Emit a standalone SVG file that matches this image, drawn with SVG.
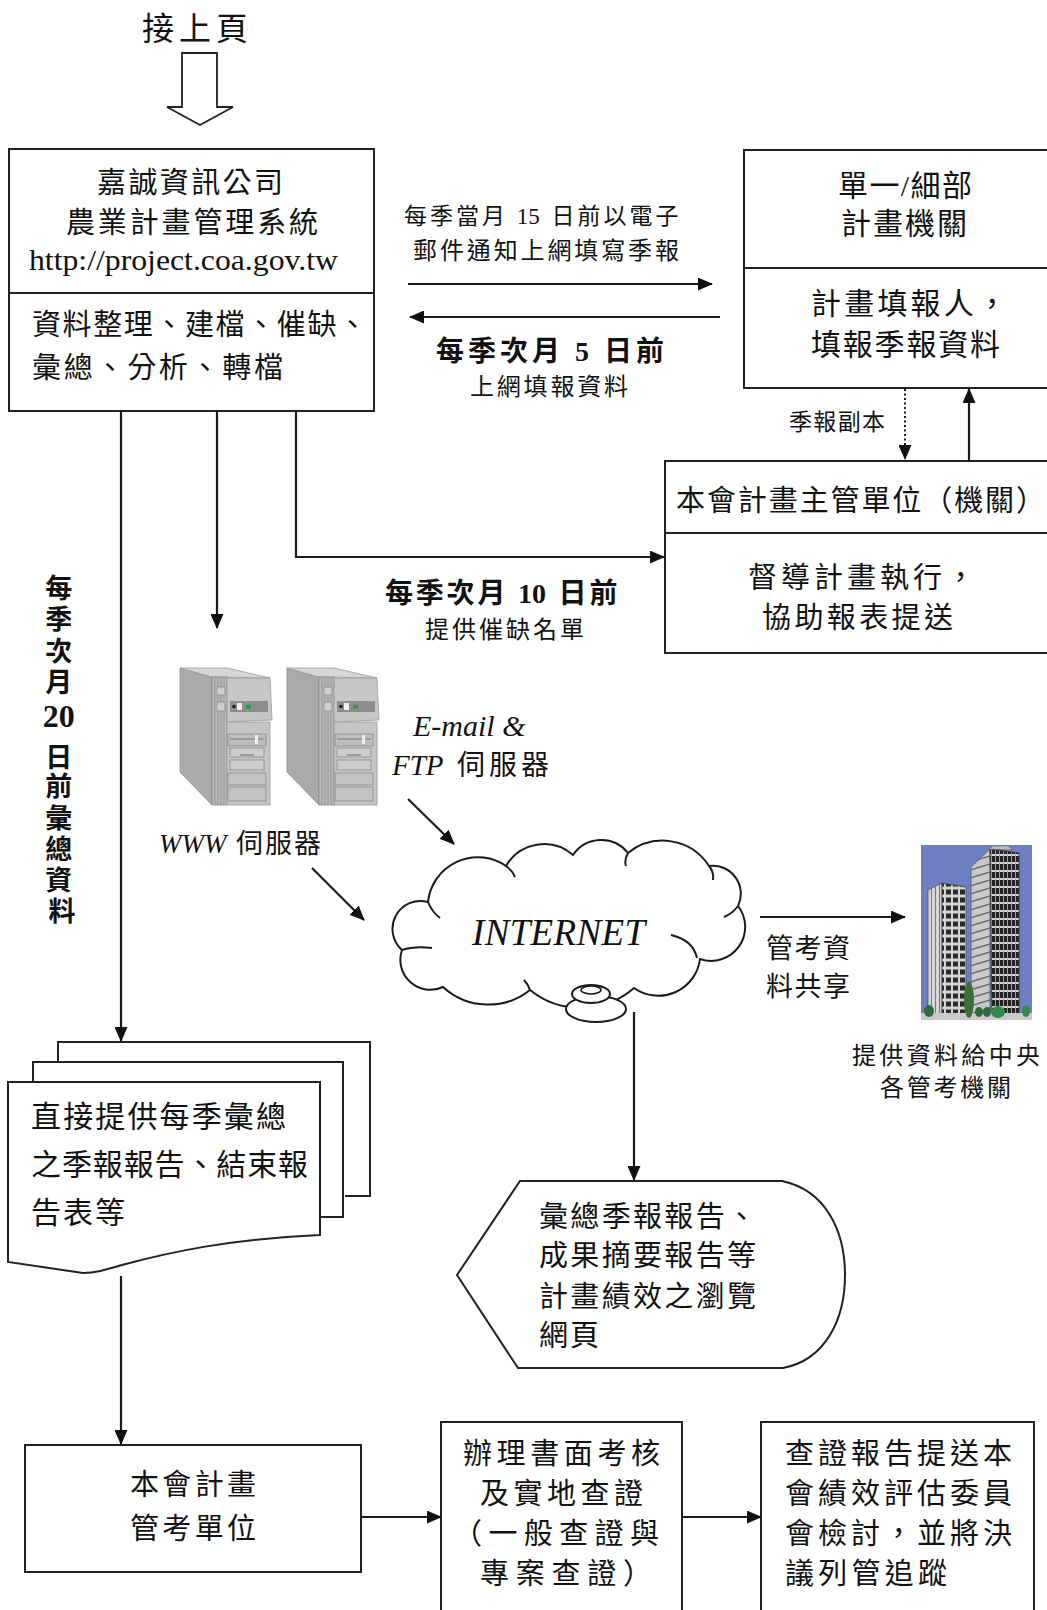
<svg xmlns="http://www.w3.org/2000/svg" width="1047" height="1610" viewBox="0 0 1047 1610">
  <style>
    text { font-family: "Liberation Serif", "Noto Sans CJK TC", serif; fill: #111; }
    .f29 { font-size: 29px; }
    .f30 { font-size: 30px; }
    .f24 { font-size: 24px; }
    .f23 { font-size: 23px; }
    .f27 { font-size: 27px; }
    .bold { font-weight: bold; }
    .it { font-style: italic; }
    .box { fill: #fff; stroke: #222; stroke-width: 2; }
    .ln { fill: none; stroke: #1a1a1a; stroke-width: 2.2; }
    .arr { marker-end: url(#ah); }
    .cloud { fill: #fff; stroke: #1a1a1a; stroke-width: 2; }
    .hint { fill: none; stroke: #1a1a1a; stroke-width: 2; }
  </style>
  <defs>
    <marker id="ah" viewBox="0 0 15 13" refX="14" refY="6.5" markerWidth="15" markerHeight="13" markerUnits="userSpaceOnUse" orient="auto">
      <path d="M0,0 L15,6.5 L0,13 Z" fill="#111"/>
    </marker>
    <!-- tower PC, drawn at origin -->
    <g id="srv">
      <polygon points="0,0 32,9 32,137 0,104" fill="#aaaaaa" stroke="#8c8c8c" stroke-width="0.8"/>
      <polygon points="0,0 47,0 90,10 32,9" fill="#d6d6d6" stroke="#9a9a9a" stroke-width="0.8"/>
      <rect x="32" y="9" width="15" height="128" fill="#b9b9b9" stroke="#8c8c8c" stroke-width="0.8"/>
      <path d="M35,9 V137 M38,9 V137 M41,9 V137 M44,9 V137" stroke="#8f8f8f" stroke-width="0.8"/>
      <polygon points="47,10 90,10 92,52 47,54" fill="#c6c6c6" stroke="#999" stroke-width="0.8"/>
      <rect x="37" y="19" width="8" height="8" fill="#cfcfcf" stroke="#8a8a8a" stroke-width="0.8"/>
      <rect x="37" y="34" width="8" height="9" fill="#cfcfcf" stroke="#8a8a8a" stroke-width="0.8"/>
      <rect x="50" y="33" width="38" height="11" fill="#8d8d8d"/>
      <circle cx="54" cy="38.5" r="1.8" fill="#222"/>
      <rect x="57" y="35" width="5" height="7" fill="#eeeeee"/>
      <rect x="66" y="37" width="5" height="3.5" fill="#1f9a4c"/>
      <rect x="47" y="54" width="43" height="83" fill="#c6c6c6" stroke="#999" stroke-width="0.8"/>
      <rect x="48" y="66" width="38" height="12" fill="#bdbdbd" stroke="#8a8a8a" stroke-width="0.8"/>
      <path d="M50,71 H84" stroke="#777" stroke-width="1"/>
      <rect x="75" y="67" width="3" height="9" fill="#eee"/>
      <rect x="50" y="80" width="34" height="9" fill="#cdcdcd" stroke="#8a8a8a" stroke-width="0.8"/>
      <rect x="60" y="86" width="14" height="2" fill="#999"/>
      <rect x="50" y="92" width="34" height="10" fill="#cdcdcd" stroke="#8a8a8a" stroke-width="0.8"/>
      <rect x="48" y="105" width="38" height="12" fill="#c2c2c2" stroke="#8a8a8a" stroke-width="0.8"/>
      <rect x="48" y="119" width="38" height="14" fill="#c2c2c2" stroke="#8a8a8a" stroke-width="0.8"/>
    </g>
    <pattern id="winTall" width="4" height="8" patternUnits="userSpaceOnUse">
      <rect width="4" height="8" fill="#222"/>
      <rect y="6" width="4" height="2" fill="#d9d9d9"/>
      <rect x="3" width="1" height="8" fill="#a0a0a0"/>
    </pattern>
    <pattern id="floorTall" width="20" height="8" patternUnits="userSpaceOnUse" patternTransform="skewY(-17)">
      <rect width="20" height="8" fill="#c9c9c9"/>
      <rect y="6" width="20" height="1.2" fill="#555"/>
    </pattern>
    <pattern id="winShort" width="7" height="8" patternUnits="userSpaceOnUse">
      <rect width="7" height="8" fill="#d2d2d2"/>
      <rect x="1" y="1.5" width="5" height="5" fill="#2a2a2a"/>
    </pattern>
    <pattern id="ribShort" width="4" height="8" patternUnits="userSpaceOnUse">
      <rect width="4" height="8" fill="#d6d6d6"/>
      <rect x="3" width="1" height="8" fill="#7a7a7a"/>
    </pattern>
  </defs>

  <rect width="1047" height="1610" fill="#fff"/>

  <!-- continued-from-previous-page marker -->
  <g id="continued">
    <text x="142" y="40" font-size="32" textLength="106" lengthAdjust="spacing">接上頁</text>
    <polygon points="182,53 217,53 217,107 233,107 200,125 167,107 182,107" fill="#fff" stroke="#222" stroke-width="1.8"/>
  </g>

  <!-- project management system -->
  <g id="system">
    <rect class="box" x="9" y="149" width="365" height="262"/>
    <line x1="9" y1="293" x2="374" y2="293" stroke="#222" stroke-width="2"/>
    <text class="f29" x="97" y="193" textLength="186" lengthAdjust="spacing">嘉誠資訊公司</text>
    <text class="f29" x="66" y="233" textLength="252" lengthAdjust="spacing">農業計畫管理系統</text>
    <text x="29" y="270" font-size="29" textLength="309" lengthAdjust="spacingAndGlyphs">http://project.coa.gov.tw</text>
    <text class="f29" x="32" y="335" textLength="335" lengthAdjust="spacing">資料整理、建檔、催缺、</text>
    <text class="f29" x="32" y="378" textLength="251" lengthAdjust="spacing">彙總、分析、轉檔</text>
  </g>

  <!-- reporting agency -->
  <g id="agency">
    <rect class="box" x="744" y="150" width="310" height="238"/>
    <line x1="744" y1="268" x2="1047" y2="268" stroke="#222" stroke-width="2"/>
    <text class="f30" x="838" y="196" textLength="134" lengthAdjust="spacing">單一/細部</text>
    <text class="f30" x="841" y="234" textLength="126" lengthAdjust="spacing">計畫機關</text>
    <text class="f30" x="811" y="314" textLength="196" lengthAdjust="spacing">計畫填報人，</text>
    <text class="f30" x="811" y="355" textLength="189" lengthAdjust="spacing">填報季報資料</text>
  </g>

  <!-- supervising unit -->
  <g id="supervisor">
    <rect class="box" x="665" y="461" width="390" height="192"/>
    <line x1="665" y1="533" x2="1047" y2="533" stroke="#222" stroke-width="2"/>
    <text class="f29" x="676" y="511" textLength="369" lengthAdjust="spacing">本會計畫主管單位（機關）</text>
    <text class="f29" x="748" y="588" textLength="227" lengthAdjust="spacing">督導計畫執行，</text>
    <text class="f29" x="762" y="628" textLength="191" lengthAdjust="spacing">協助報表提送</text>
  </g>

  <!-- servers -->
  <g id="servers">
    <use href="#srv" x="180" y="668"/>
    <use href="#srv" x="287" y="668"/>
    <text x="413" y="736" font-size="30" class="it">E-mail &amp;</text>
    <text x="392" y="775" font-size="29"><tspan class="it">FTP</tspan><tspan x="457" font-size="28" letter-spacing="4">伺服器</tspan></text>
    <text x="159" y="853" font-size="27"><tspan class="it">WWW</tspan><tspan x="236" font-size="27" letter-spacing="2">伺服器</tspan></text>
  </g>

  <!-- internet cloud -->
  <g id="internet">
    <path class="cloud" d="M402,950 A28,28 0 0 1 428,902 A50,50 0 0 1 506,866 A44,44 0 0 1 573,855 A34,34 0 0 1 628,853 A55,55 0 0 1 709,866 A28,28 0 0 1 738,906 A34,34 0 0 1 700,959 A42,42 0 0 1 634,988 A81,81 0 0 1 530,990 A67,67 0 0 1 443,987 A30,30 0 0 1 402,950 Z"/>
    <path class="hint" d="M428,902 Q432,912 440,918 M506,866 Q512,870 515,877 M628,853 Q624,860 626,866 M709,866 Q714,872 713,880 M738,906 Q732,914 724,917 M697,958 Q693,940 671,935 M530,990 Q528,984 524,980 M402,950 Q414,946 432,948"/>
    <ellipse cx="596" cy="1009" rx="30" ry="13" class="cloud"/>
    <ellipse cx="591" cy="994" rx="19" ry="9" class="cloud"/>
    <ellipse cx="591" cy="990" rx="10" ry="4" fill="none" stroke="#1a1a1a" stroke-width="1.6"/>
    <text x="472" y="945" font-size="37" class="it" textLength="173" lengthAdjust="spacing">INTERNET</text>
  </g>

  <!-- central authorities -->
  <g id="central">
    <rect x="921" y="845" width="111" height="175" fill="#6e80c3"/>
    <!-- tall tower -->
    <polygon points="971,867 990,849 990,1017 971,1017" fill="url(#floorTall)" stroke="#555" stroke-width="0.8"/>
    <polygon points="990,849 1019,853 1019,1017 992,1017" fill="url(#winTall)" stroke="#333" stroke-width="0.8"/>
    <polygon points="988,849 993,846 1009,846 1012,850" fill="#bdbdbd" stroke="#666" stroke-width="0.6"/>
    <!-- short tower -->
    <polygon points="928,890 942,883 942,1017 928,1017" fill="url(#ribShort)" stroke="#555" stroke-width="0.8"/>
    <polygon points="942,883 966,887 966,1017 942,1017" fill="url(#winShort)" stroke="#444" stroke-width="0.8"/>
    <!-- ground and trees -->
    <rect x="921" y="1013" width="111" height="7" fill="#c9c9c9"/>
    <ellipse cx="929" cy="1011" rx="5" ry="6" fill="#2f6b3c"/>
    <ellipse cx="969" cy="1000" rx="5" ry="18" fill="#3d6e3a"/>
    <ellipse cx="979" cy="1012" rx="4" ry="5" fill="#2f6b3c"/>
    <ellipse cx="987" cy="1012" rx="4" ry="5" fill="#2f6b3c"/>
    <ellipse cx="998" cy="1012" rx="7" ry="6" fill="#2f8a4c"/>
    <ellipse cx="1026" cy="1011" rx="4" ry="6" fill="#2f8a4c"/>
    <text class="f24" x="852" y="1064" textLength="188" lengthAdjust="spacing">提供資料給中央</text>
    <text class="f24" x="880" y="1096" textLength="131" lengthAdjust="spacing">各管考機關</text>
  </g>

  <!-- quarterly reports (stacked documents) -->
  <g id="reports">
    <path d="M58,1062 V1042 H370 V1196 H345" fill="#fff" stroke="#222" stroke-width="2"/>
    <path d="M33,1082 V1062 H343 V1217 H321" fill="#fff" stroke="#222" stroke-width="2"/>
    <path d="M8,1082 H320 V1235 C230,1239 170,1252 122,1265 C105,1270 95,1273 83,1273 L8,1262 Z" fill="#fff" stroke="#222" stroke-width="2"/>
    <text class="f30" x="31" y="1127" textLength="255" lengthAdjust="spacing">直接提供每季彙總</text>
    <text class="f30" x="31" y="1175" textLength="277" lengthAdjust="spacing">之季報報告、結束報</text>
    <text class="f30" x="31" y="1223" letter-spacing="2">告表等</text>
  </g>

  <!-- performance web pages -->
  <g id="webpages">
    <path d="M457,1275 L520,1181 H782 C825,1190 845,1230 845,1275 C845,1320 825,1360 783,1368 H518 Z" fill="#fff" stroke="#222" stroke-width="2"/>
    <text class="f29" x="539" y="1227" textLength="217" lengthAdjust="spacing">彙總季報報告、</text>
    <text class="f29" x="539" y="1266" textLength="217" lengthAdjust="spacing">成果摘要報告等</text>
    <text class="f29" x="539" y="1307" textLength="217" lengthAdjust="spacing">計畫績效之瀏覽</text>
    <text class="f29" x="539" y="1346" letter-spacing="2">網頁</text>
  </g>

  <!-- control unit -->
  <g id="control">
    <rect class="box" x="25" y="1445" width="336" height="127"/>
    <text class="f29" x="130" y="1495" textLength="126" lengthAdjust="spacing">本會計畫</text>
    <text class="f29" x="130" y="1539" textLength="126" lengthAdjust="spacing">管考單位</text>
  </g>

  <!-- review and inspection -->
  <g id="inspection">
    <rect class="box" x="441" y="1422" width="241" height="195"/>
    <text class="f29" x="463" y="1464" textLength="197" lengthAdjust="spacing">辦理書面考核</text>
    <text class="f29" x="480" y="1504" textLength="163" lengthAdjust="spacing">及實地查證</text>
    <text class="f29" x="453" y="1544" textLength="206" lengthAdjust="spacing">（一般查證與</text>
    <text class="f29" x="480" y="1584" textLength="172" lengthAdjust="spacing">專案查證）</text>
  </g>

  <!-- committee follow-up -->
  <g id="committee">
    <rect class="box" x="761" y="1422" width="273" height="195"/>
    <text class="f29" x="785" y="1464" textLength="227" lengthAdjust="spacing">查證報告提送本</text>
    <text class="f29" x="785" y="1504" textLength="227" lengthAdjust="spacing">會績效評估委員</text>
    <text class="f29" x="785" y="1544" textLength="227" lengthAdjust="spacing">會檢討，並將決</text>
    <text class="f29" x="785" y="1584" textLength="162" lengthAdjust="spacing">議列管追蹤</text>
  </g>

  <!-- connectors and their labels -->
  <g id="connectors">
    <path class="ln arr" d="M408,284 H712"/>
    <path class="ln arr" d="M720,317 H410"/>
    <path class="ln arr" d="M121,411 V1041"/>
    <path class="ln arr" d="M217,411 V628"/>
    <path class="ln arr" d="M296,411 V557 H664"/>
    <path class="ln arr" d="M905,389 V459" stroke-dasharray="2 2.5" style="stroke-width:2"/>
    <path class="ln arr" d="M969,461 V389"/>
    <path class="ln arr" d="M408,799 L454,844"/>
    <path class="ln arr" d="M312,868 L364,920"/>
    <path class="ln arr" d="M760,917 H905"/>
    <path class="ln arr" d="M634,1012 V1180"/>
    <path class="ln arr" d="M121,1276 V1444"/>
    <path class="ln arr" d="M362,1517 H441"/>
    <path class="ln arr" d="M682,1517 H761"/>

    <text class="f23" x="404" y="224" letter-spacing="3">每季當月 <tspan letter-spacing="0">1</tspan>5 日前以電子</text>
    <text class="f24" x="413" y="259" textLength="266" lengthAdjust="spacing">郵件通知上網填寫季報</text>
    <text class="bold" x="436" y="361" font-size="28" letter-spacing="4">每季次月 5 日前</text>
    <text class="f24" x="470" y="395" textLength="158" lengthAdjust="spacing">上網填報資料</text>
    <text class="f23" x="789" y="430" textLength="96" lengthAdjust="spacing">季報副本</text>
    <text class="bold" x="385" y="603" font-size="28" letter-spacing="2.8">每季次月 <tspan letter-spacing="0">1</tspan>0 日前</text>
    <text class="f24" x="425" y="638" textLength="159" lengthAdjust="spacing">提供催缺名單</text>
    <text class="f27" x="766" y="958" textLength="84" lengthAdjust="spacing">管考資</text>
    <text class="f27" x="766" y="996" textLength="84" lengthAdjust="spacing">料共享</text>
    <text class="bold" font-size="27" text-anchor="middle">
      <tspan x="62" y="598">每</tspan>
      <tspan x="62" y="629">季</tspan>
      <tspan x="62" y="661">次</tspan>
      <tspan x="62" y="692">月</tspan>
      <tspan x="62" y="727" font-size="32">20</tspan>
      <tspan x="62" y="767">日</tspan>
      <tspan x="62" y="796">前</tspan>
      <tspan x="62" y="828">彙</tspan>
      <tspan x="62" y="859">總</tspan>
      <tspan x="62" y="890">資</tspan>
      <tspan x="62" y="921">料</tspan>
    </text>
  </g>
</svg>
